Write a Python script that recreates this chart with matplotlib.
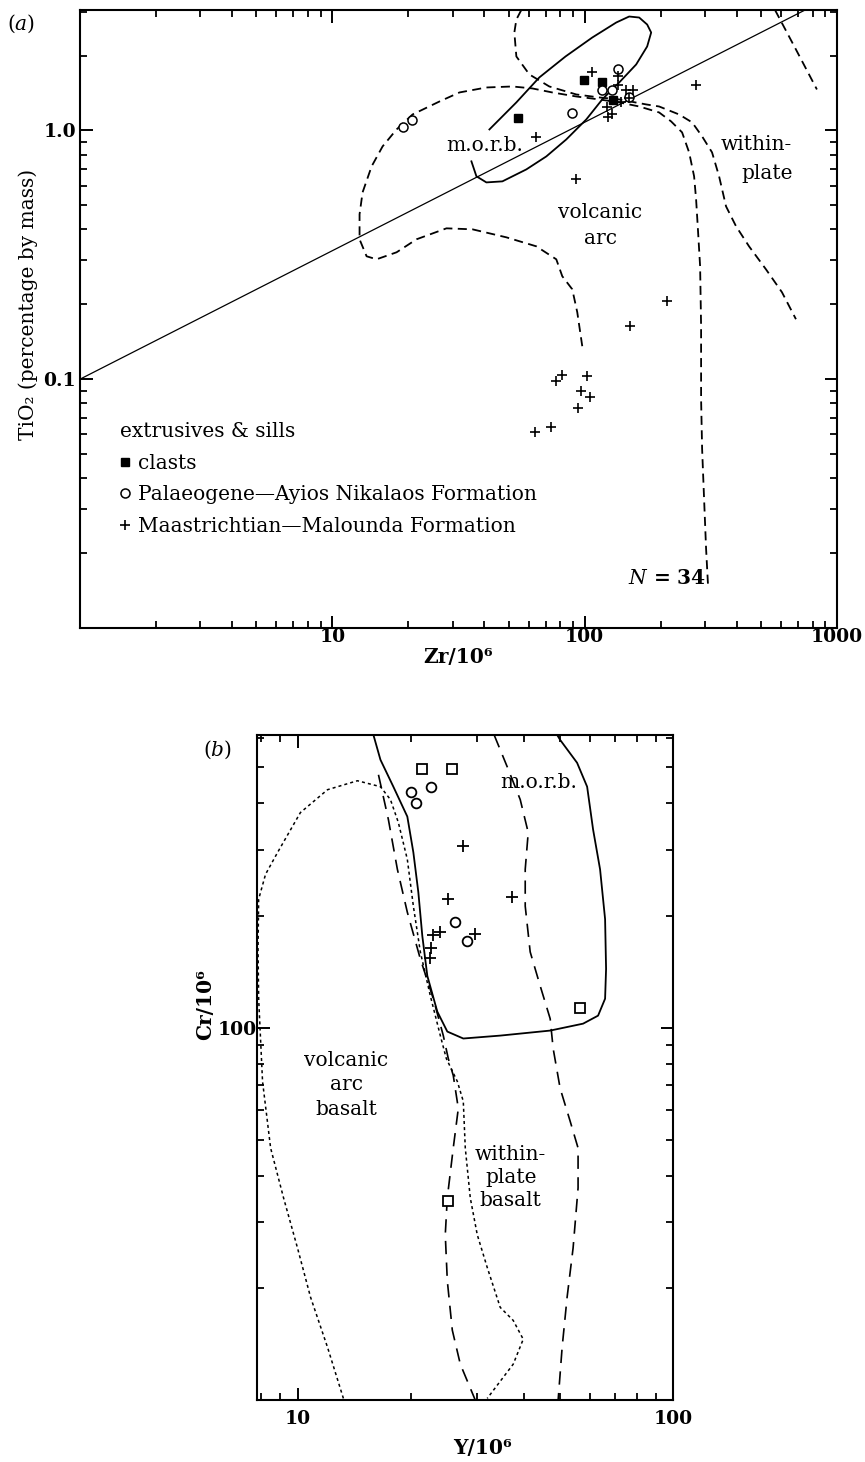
import matplotlib
matplotlib.use('Agg')
import matplotlib.pyplot as plt
from matplotlib.ticker import LogLocator, NullFormatter, FixedLocator, FixedFormatter

plt.rcParams['font.family'] = ['DejaVu Serif']
plt.rcParams['mathtext.fontset'] = 'dejavuserif'

# ---------------- (a) TiO2 vs Zr ----------------
clast_zr = [54.6, 99.6, 117, 129.8]
clast_ti = [1.12, 1.59, 1.56, 1.32]

palaeo_zr = [19.0, 20.6, 89.3, 135.8, 117, 128.6, 150]
palaeo_ti = [1.03, 1.10, 1.17, 1.77, 1.46, 1.46, 1.36]

maas_zr = [107.2, 135.8, 135.8, 146, 155.7, 139.6, 122.8, 128.6, 124, 150,
           64, 92.6, 276, 212, 151.5,
           77.2, 81.5, 102.4, 97, 105, 94.3, 73.8, 63.8]
maas_ti = [1.71, 1.65, 1.52, 1.45, 1.45, 1.30, 1.24, 1.16, 1.13, 1.35,
           0.938, 0.636, 1.52, 0.206, 0.163,
           0.098, 0.1038, 0.1028, 0.0895, 0.0847, 0.0765, 0.0642, 0.0612]

# straight reference line
ref_zr = [1, 753]
ref_ti = [0.1, 3.06]

# m.o.r.b. field (solid)
morb_a_zr = [35.58, 37.24, 40.79, 47.20, 58.73, 70.47, 84.58, 101.5, 117.4, 137.1,
             160.0, 176.9, 183.5, 176.9, 164.5, 150.1, 133.4, 107.2, 84.0, 66.12,
             53.62, 41.93]
morb_a_ti = [0.751, 0.654, 0.618, 0.624, 0.697, 0.786, 0.920, 1.107, 1.332, 1.559,
             1.841, 2.175, 2.475, 2.665, 2.843, 2.870, 2.715, 2.363, 1.983, 1.633,
             1.296, 1.009]

# within-plate field (dashed)
wpb_a_zr = [56.12, 53.62, 52.65, 53.62, 60.37, 72.42, 92.64, 114.2, 137.1, 175.3,
            197.3, 236.8, 266.7, 292.1, 319.8, 341.0, 363.4, 398.0, 448.2, 523.0,
            605.3, 687.7]
wpb_a_ti = [3.05, 2.791, 2.475, 1.983, 1.679, 1.502, 1.395, 1.357, 1.332, 1.272,
            1.248, 1.159, 1.077, 0.946, 0.816, 0.654, 0.495, 0.412, 0.342, 0.2765,
            0.2236, 0.1742]

wpb_b_zr = [568.0, 687.7, 832.6]
wpb_b_ti = [3.05, 2.115, 1.461]

# volcanic arc field (dashed)
arc_a_zr = [97.84, 93.48, 89.31, 81.53, 77.19, 64.33, 48.95, 35.92, 28.34, 21.56,
            17.97, 14.97, 13.67, 12.82, 12.82, 13.18, 14.31, 15.82, 17.97, 20.79,
            26.58, 31.90, 40.79, 51.70, 62.03, 74.43, 92.64, 114.2, 137.1, 164.5,
            197.3, 220.1, 243.3, 259.4, 271.5, 276.5, 281.6, 286.8, 289.4, 289.4,
            292.1, 297.4, 302.9, 308.4]
arc_a_ti = [0.1357, 0.1858, 0.2298, 0.2593, 0.3033, 0.342, 0.3717, 0.4003, 0.4040, 0.3650,
            0.3236, 0.3033, 0.3119, 0.3650, 0.460, 0.5637, 0.7168, 0.8625, 1.009, 1.159,
            1.307, 1.421, 1.488, 1.502, 1.475, 1.421, 1.369, 1.332, 1.296, 1.248,
            1.181, 1.087, 0.982, 0.816, 0.654, 0.528, 0.3894, 0.2843, 0.1632, 0.0831,
            0.0524, 0.0330, 0.02077, 0.01475]

# ---------------- (b) Cr vs Y ----------------
sq_y = [21.5, 25.8, 56.6, 25.1]
sq_cr = [495, 495, 113, 34.3]

circ_y = [20.1, 20.7, 22.7, 26.2, 28.2]
circ_cr = [430, 400, 444, 192, 171]

plus_y = [27.6, 25.2, 37.3, 22.9, 24.0, 22.7, 22.6, 29.7]
plus_cr = [307, 221, 224, 177, 181, 164, 154, 178]

morb_b_y = [15.93, 16.63, 18.00, 19.61, 20.35, 20.98, 21.50, 22.17, 23.57, 25.06,
            27.64, 34.67, 47.09, 57.63, 63.17, 65.95, 66.35, 65.95, 63.95, 61.27,
            59.07, 55.54, 50.06, 49.15]
morb_b_cr = [611, 524.1, 443.7, 368.8, 295.5, 231.0, 176.2, 137.7, 110.4, 97.6,
             93.5, 95.2, 98.2, 102.5, 107.7, 119.6, 143.8, 195.6, 266.2, 340.4,
             443.7, 514.4, 592.6, 611]

wpl_left_y = [16.43, 17.46, 18.45, 19.61, 21.24, 23.00, 24.45, 25.21, 25.99, 26.81,
              25.99, 25.06, 24.75, 25.06, 25.84, 27.14, 29.74]
wpl_left_cr = [477.6, 362.2, 266.2, 204.2, 152.9, 119.6, 95.2, 82.6, 74.4, 60.7,
               47.5, 34.9, 27.8, 20.9, 15.4, 12.48, 10.0]

wpl_right_y = [33.4, 36.18, 39.19, 41.16, 40.41, 40.41, 41.66, 44.29, 47.09, 47.96,
               50.06, 53.22, 55.88, 55.88, 54.20, 52.25, 50.68, 49.45]
wpl_right_cr = [611, 501.9, 409.7, 334.2, 266.2, 212.0, 159.7, 129.5, 105.7, 87.9,
                68.7, 56.1, 47.5, 37.1, 25.6, 18.9, 13.86, 10.0]

vab_y = [13.25, 12.02, 10.83, 10.0, 9.18, 8.48, 8.07, 7.88, 7.85, 7.88,
         8.22, 8.85, 10.18, 12.02, 14.44, 16.63, 17.68, 18.56, 19.61, 20.35,
         21.24, 22.58, 24.01, 24.91, 26.65, 27.64, 27.98, 28.85, 30.11, 32.01,
         34.67, 37.54, 39.92, 37.54, 32.01]
vab_cr = [10.1, 13.86, 18.9, 25.6, 34.9, 47.5, 71.7, 119.6, 162.6, 221.3,
          258.1, 295.5, 378.1, 435.5, 460.3, 443.7, 409.7, 355.6, 283.1, 212.0,
          159.7, 121.8, 95.2, 82.6, 71.7, 63.4, 47.5, 34.9, 27.8, 22.7,
          17.73, 16.36, 14.56, 12.48, 10.1]

FS = 14.5
TS = 13.5

fig = plt.figure(figsize=(8.65, 14.62), dpi=100)
ax1 = fig.add_axes([0.0925, 0.5705, 0.8751, 0.4227])
ax2 = fig.add_axes([0.2971, 0.0424, 0.4809, 0.4549])

for ax in (ax1, ax2):
    ax.set_xscale('log')
    ax.set_yscale('log')
    for s in ax.spines.values():
        s.set_linewidth(1.5)
    ax.tick_params(which='both', direction='in', top=True, right=True,
                   labelsize=TS, pad=3)
    ax.tick_params(which='major', length=9, width=1.4)
    ax.tick_params(which='minor', length=5, width=1.3)
    ax.xaxis.set_minor_locator(LogLocator(base=10, subs=range(2, 10), numticks=20))
    ax.yaxis.set_minor_locator(LogLocator(base=10, subs=range(2, 10), numticks=20))
    ax.xaxis.set_minor_formatter(NullFormatter())
    ax.yaxis.set_minor_formatter(NullFormatter())

# ---- panel (a)
ax1.set_xlim(1, 1000)
ax1.set_ylim(0.01, 3.05)
ax1.xaxis.set_major_locator(FixedLocator([1, 10, 100, 1000]))
ax1.xaxis.set_major_formatter(FixedFormatter(['', '10', '100', '1000']))
ax1.yaxis.set_major_locator(FixedLocator([0.01, 0.1, 1.0]))
ax1.yaxis.set_major_formatter(FixedFormatter(['', '0.1', '1.0']))
ax1.tick_params(axis='x', pad=0)

ax1.plot(ref_zr, ref_ti, color='black', lw=0.9)
ax1.plot(morb_a_zr, morb_a_ti, color='black', lw=1.3)
ax1.plot(wpb_a_zr, wpb_a_ti, color='black', lw=1.3, ls=(0, (5, 3)))
ax1.plot(wpb_b_zr, wpb_b_ti, color='black', lw=1.3, ls=(0, (5, 3)))
ax1.plot(arc_a_zr, arc_a_ti, color='black', lw=1.3, ls=(0, (5, 3)))

ax1.plot(clast_zr, clast_ti, 's', color='black', ms=5.5, label='clasts')
ax1.plot(palaeo_zr, palaeo_ti, 'o', mfc='white', mec='black', mew=1.1, ms=6.5,
         label='Palaeogene\u2014Ayios Nikalaos Formation')
ax1.plot(maas_zr, maas_ti, '+', color='black', mew=1.2, ms=7,
         label='Maastrichtian\u2014Malounda Formation')

leg = ax1.legend(loc='upper left', bbox_to_anchor=(0.040, 0.350), frameon=False,
                 title='extrusives & sills', fontsize=FS, title_fontsize=FS,
                 handlelength=0.5, handletextpad=0.4, labelspacing=0.64,
                 borderpad=0, alignment='left')

kw = dict(transform=ax1.transAxes, fontsize=FS, ha='center', va='center')
ax1.text(0.535, 0.780, 'm.o.r.b.', **kw)
ax1.text(0.687, 0.651, 'volcanic\narc', linespacing=1.5, **kw)
ax1.text(0.893, 0.782, 'within-', **kw)
ax1.text(0.908, 0.736, 'plate', **kw)
ax1.text(0.775, 0.081, '$N$ = 34', transform=ax1.transAxes, fontsize=FS,
         ha='center', va='center', fontweight='bold')

for lab in ax1.get_xticklabels() + ax1.get_yticklabels():
    lab.set_fontweight('bold')

ax1.set_xlabel('Zr/10\u2076', fontsize=FS, fontweight='bold')
ax1.xaxis.set_label_coords(0.5, -0.031)
ax1.set_ylabel('TiO\u2082 (percentage by mass)', fontsize=FS)
ax1.yaxis.set_label_coords(-0.055, 0.523)
fig.text(0.024, 0.984, '($a$)', fontsize=FS, ha='center', va='center')

# ---- panel (b)
ax2.set_xlim(7.8, 100)
ax2.set_ylim(10, 611)
ax2.xaxis.set_major_locator(FixedLocator([10, 100]))
ax2.xaxis.set_major_formatter(FixedFormatter(['10', '100']))
ax2.yaxis.set_major_locator(FixedLocator([10, 100]))
ax2.yaxis.set_major_formatter(FixedFormatter(['', '100']))
ax2.tick_params(axis='x', pad=7)
ax2.tick_params(axis='y', pad=0)

ax2.plot(morb_b_y, morb_b_cr, color='black', lw=1.3)
ax2.plot(wpl_left_y, wpl_left_cr, color='black', lw=1.2, ls=(0, (8, 5)))
ax2.plot(wpl_right_y, wpl_right_cr, color='black', lw=1.2, ls=(0, (8, 5)))
ax2.plot(vab_y, vab_cr, color='black', lw=1.1, ls=(0, (2, 2)))

ax2.plot(sq_y, sq_cr, 's', mfc='white', mec='black', mew=1.3, ms=7)
ax2.plot(circ_y, circ_cr, 'o', mfc='white', mec='black', mew=1.3, ms=7)
ax2.plot(plus_y, plus_cr, '+', color='black', mew=1.3, ms=8)

for lab in ax2.get_xticklabels() + ax2.get_yticklabels():
    lab.set_fontweight('bold')

kw2 = dict(transform=ax2.transAxes, fontsize=FS, ha='center', va='center')
ax2.text(0.678, 0.928, 'm.o.r.b.', **kw2)
ax2.text(0.214, 0.474, 'volcanic\narc\nbasalt', linespacing=1.35, **kw2)
ax2.text(0.61, 0.334, 'within-\nplate\nbasalt', linespacing=1.27, **kw2)

ax2.set_xlabel('Y/10\u2076', fontsize=FS, fontweight='bold')
ax2.xaxis.set_label_coords(0.541, -0.057)
ax2.set_ylabel('Cr/10\u2076', fontsize=FS, fontweight='bold')
ax2.yaxis.set_label_coords(-0.101, 0.595)
fig.text(0.252, 0.487, '($b$)', fontsize=FS, ha='center', va='center')

fig.savefig('out.png', dpi=100)
